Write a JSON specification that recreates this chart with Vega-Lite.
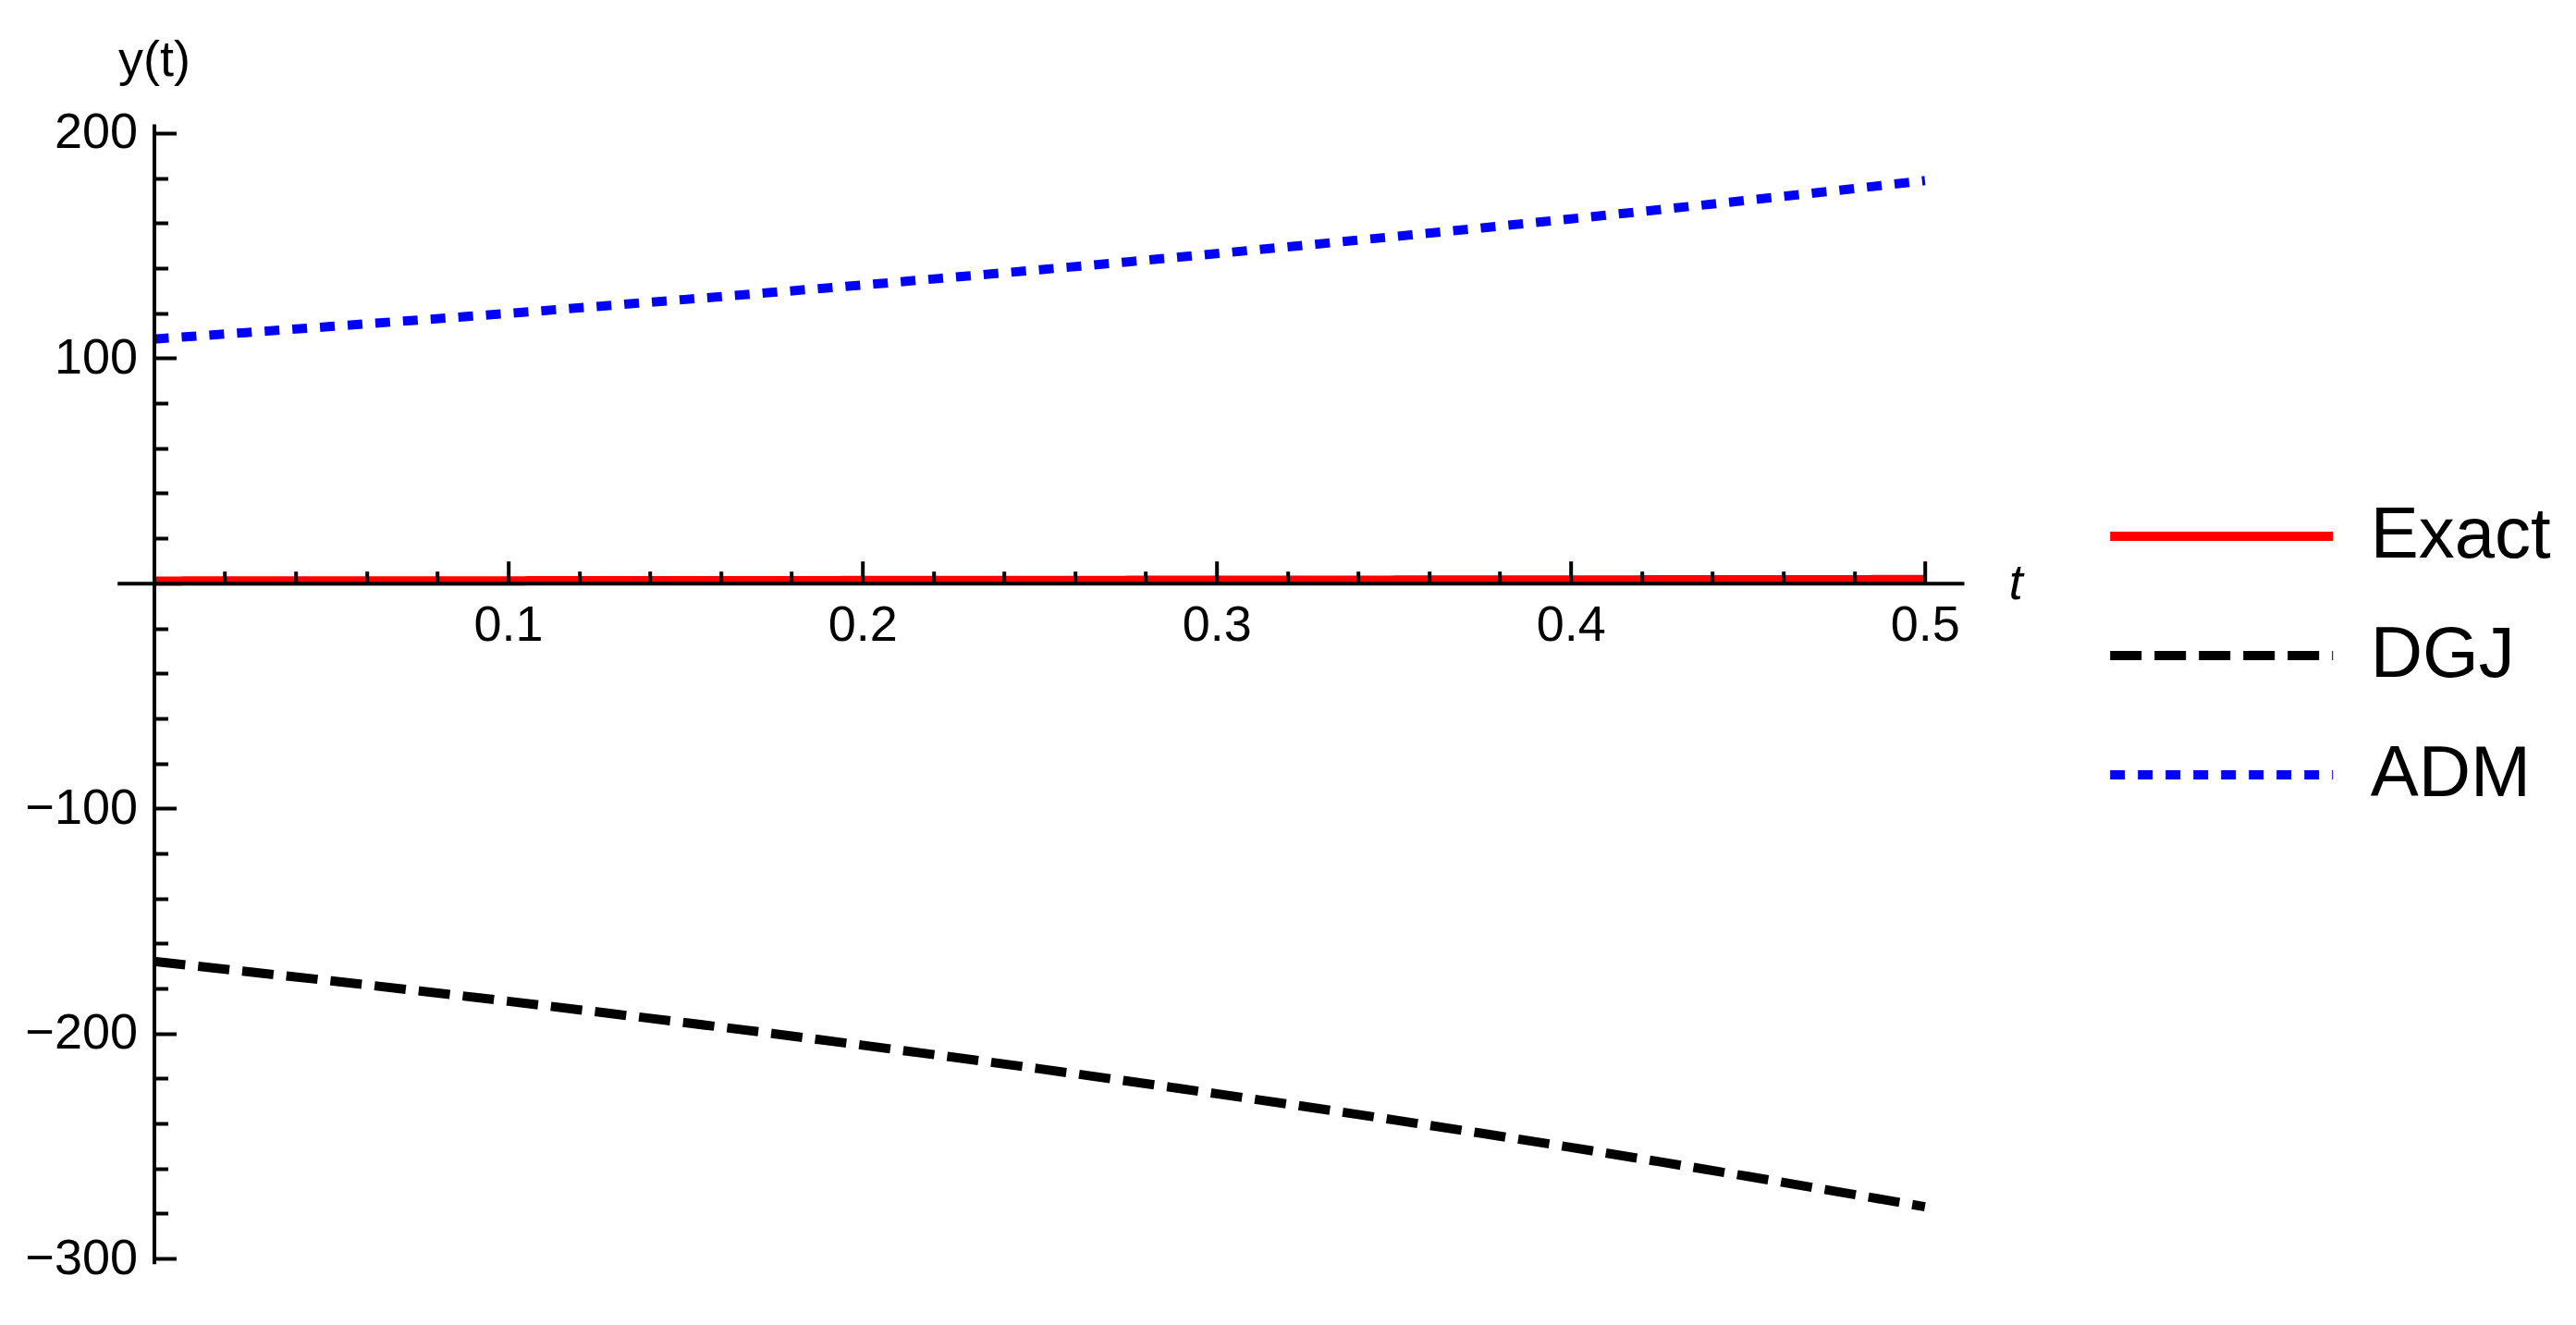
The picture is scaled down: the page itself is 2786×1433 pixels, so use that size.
{
  "$schema": "https://vega.github.io/schema/vega-lite/v6.json",
  "autosize": {"type": "none"},
  "width": 1997.3,
  "height": 1232.7,
  "padding": {"left": 126.7, "top": 134, "right": 662, "bottom": 66.3},
  "background": "white",
  "config": {
    "view": {"stroke": null},
    "font": "Liberation Sans",
    "legend": {
      "orient": "none",
      "legendX": 2237,
      "legendY": 407,
      "padding": 0,
      "symbolType": "M-4,0H4",
      "symbolSize": 3630,
      "symbolStrokeWidth": 10,
      "labelFont": "Liberation Sans",
      "labelFontSize": 78,
      "labelColor": "black",
      "labelOffset": 122,
      "labelLimit": 800,
      "rowPadding": 51
    }
  },
  "data": {
    "values": [
      {"t": 0, "y": 1.0, "series": "Exact"},
      {"t": 0.025, "y": 1.025, "series": "Exact"},
      {"t": 0.05, "y": 1.051, "series": "Exact"},
      {"t": 0.075, "y": 1.078, "series": "Exact"},
      {"t": 0.1, "y": 1.105, "series": "Exact"},
      {"t": 0.125, "y": 1.133, "series": "Exact"},
      {"t": 0.15, "y": 1.162, "series": "Exact"},
      {"t": 0.175, "y": 1.191, "series": "Exact"},
      {"t": 0.2, "y": 1.221, "series": "Exact"},
      {"t": 0.225, "y": 1.252, "series": "Exact"},
      {"t": 0.25, "y": 1.284, "series": "Exact"},
      {"t": 0.275, "y": 1.317, "series": "Exact"},
      {"t": 0.3, "y": 1.35, "series": "Exact"},
      {"t": 0.325, "y": 1.384, "series": "Exact"},
      {"t": 0.35, "y": 1.419, "series": "Exact"},
      {"t": 0.375, "y": 1.455, "series": "Exact"},
      {"t": 0.4, "y": 1.492, "series": "Exact"},
      {"t": 0.425, "y": 1.53, "series": "Exact"},
      {"t": 0.45, "y": 1.568, "series": "Exact"},
      {"t": 0.475, "y": 1.608, "series": "Exact"},
      {"t": 0.5, "y": 1.649, "series": "Exact"},
      {"t": 0, "y": -168.0, "series": "DGJ"},
      {"t": 0.025, "y": -172.3, "series": "DGJ"},
      {"t": 0.05, "y": -176.6, "series": "DGJ"},
      {"t": 0.075, "y": -181.1, "series": "DGJ"},
      {"t": 0.1, "y": -185.7, "series": "DGJ"},
      {"t": 0.125, "y": -190.4, "series": "DGJ"},
      {"t": 0.15, "y": -195.2, "series": "DGJ"},
      {"t": 0.175, "y": -200.1, "series": "DGJ"},
      {"t": 0.2, "y": -205.2, "series": "DGJ"},
      {"t": 0.225, "y": -210.4, "series": "DGJ"},
      {"t": 0.25, "y": -215.7, "series": "DGJ"},
      {"t": 0.275, "y": -221.2, "series": "DGJ"},
      {"t": 0.3, "y": -226.8, "series": "DGJ"},
      {"t": 0.325, "y": -232.5, "series": "DGJ"},
      {"t": 0.35, "y": -238.4, "series": "DGJ"},
      {"t": 0.375, "y": -244.4, "series": "DGJ"},
      {"t": 0.4, "y": -250.6, "series": "DGJ"},
      {"t": 0.425, "y": -257.0, "series": "DGJ"},
      {"t": 0.45, "y": -263.5, "series": "DGJ"},
      {"t": 0.475, "y": -270.2, "series": "DGJ"},
      {"t": 0.5, "y": -277.0, "series": "DGJ"},
      {"t": 0, "y": 108.5, "series": "ADM"},
      {"t": 0.025, "y": 111.3, "series": "ADM"},
      {"t": 0.05, "y": 114.1, "series": "ADM"},
      {"t": 0.075, "y": 117.0, "series": "ADM"},
      {"t": 0.1, "y": 119.9, "series": "ADM"},
      {"t": 0.125, "y": 123.0, "series": "ADM"},
      {"t": 0.15, "y": 126.1, "series": "ADM"},
      {"t": 0.175, "y": 129.3, "series": "ADM"},
      {"t": 0.2, "y": 132.5, "series": "ADM"},
      {"t": 0.225, "y": 135.9, "series": "ADM"},
      {"t": 0.25, "y": 139.3, "series": "ADM"},
      {"t": 0.275, "y": 142.8, "series": "ADM"},
      {"t": 0.3, "y": 146.5, "series": "ADM"},
      {"t": 0.325, "y": 150.2, "series": "ADM"},
      {"t": 0.35, "y": 154.0, "series": "ADM"},
      {"t": 0.375, "y": 157.9, "series": "ADM"},
      {"t": 0.4, "y": 161.9, "series": "ADM"},
      {"t": 0.425, "y": 166.0, "series": "ADM"},
      {"t": 0.45, "y": 170.2, "series": "ADM"},
      {"t": 0.475, "y": 174.5, "series": "ADM"},
      {"t": 0.5, "y": 178.9, "series": "ADM"}
    ]
  },
  "resolve": {"axis": {"x": "independent", "y": "independent"}},
  "layer": [
    {
      "transform": [{"filter": "datum.series === 'Exact'"}],
      "mark": {"type": "line", "strokeWidth": 10, "strokeCap": "butt"},
      "encoding": {
        "x": {
          "field": "t", "type": "quantitative",
          "scale": {"domain": [-0.0104, 0.511], "nice": false, "zero": false},
          "axis": {
            "orient": "bottom", "offset": -736, "values": [0.1, 0.2, 0.3, 0.4, 0.5], "format": ".1f",
            "grid": false, "tickSize": -24, "tickWidth": 4, "tickColor": "black",
            "domainWidth": 4, "domainColor": "black",
            "labelFont": "Liberation Sans", "labelFontSize": 54, "labelColor": "black",
            "labelPadding": 43, "labelFlush": false, "labelOverlap": false, "labelBound": false,
            "title": "t", "titleFont": "Liberation Sans", "titleFontSize": 54, "titleFontStyle": "italic",
            "titleFontWeight": "normal", "titleColor": "black", "titleX": 2053, "titleY": 17,
            "titleAlign": "center", "titleBaseline": "alphabetic", "titleAngle": 0, "zindex": 1
          }
        },
        "y": {
          "field": "y", "type": "quantitative",
          "scale": {"domain": [-302.3, 204.1], "nice": false, "zero": false},
          "axis": {
            "orient": "left", "offset": -39.8, "values": [-300, -200, -100, 100, 200], "format": "d",
            "grid": false, "tickSize": -24, "tickWidth": 4, "tickColor": "black",
            "domainWidth": 4, "domainColor": "black",
            "labelFont": "Liberation Sans", "labelFontSize": 54, "labelColor": "black",
            "labelPadding": 42, "labelFlush": false, "labelOverlap": false, "labelBound": false,
            "title": "y(t)", "titleFont": "Liberation Sans", "titleFontSize": 54,
            "titleFontWeight": "normal", "titleColor": "black", "titleX": 0, "titleY": -53,
            "titleAlign": "center", "titleBaseline": "alphabetic", "titleAngle": 0, "zindex": 1
          }
        },
        "color": {
          "field": "series", "type": "nominal",
          "scale": {"domain": ["Exact", "DGJ", "ADM"], "range": ["#ff0000", "#000000", "#0000ff"]},
          "legend": {"title": null}
        },
        "strokeDash": {
          "field": "series", "type": "nominal",
          "scale": {"domain": ["Exact", "DGJ", "ADM"], "range": [[1, 0], [34, 14], [16, 14]]},
          "legend": {"title": null}
        }
      }
    },
    {
      "transform": [{"filter": "datum.series !== 'Exact'"}],
      "mark": {"type": "line", "strokeWidth": 10, "strokeCap": "butt"},
      "encoding": {
        "x": {
          "field": "t", "type": "quantitative",
          "scale": {"domain": [-0.0104, 0.511], "nice": false, "zero": false},
          "axis": {
            "orient": "bottom", "offset": -736,
            "values": [0.02, 0.04, 0.06, 0.08, 0.12, 0.14, 0.16, 0.18, 0.22, 0.24, 0.26, 0.28, 0.32, 0.34, 0.36, 0.38, 0.42, 0.44, 0.46, 0.48],
            "grid": false, "domain": false, "labels": false, "tickSize": -13, "tickWidth": 4, "tickColor": "black",
            "title": null, "zindex": 1
          }
        },
        "y": {
          "field": "y", "type": "quantitative",
          "scale": {"domain": [-302.3, 204.1], "nice": false, "zero": false},
          "axis": {
            "orient": "left", "offset": -39.8,
            "values": [-280, -260, -240, -220, -180, -160, -140, -120, -80, -60, -40, -20, 20, 40, 60, 80, 120, 140, 160, 180],
            "grid": false, "domain": false, "labels": false, "tickSize": -15, "tickWidth": 4, "tickColor": "black",
            "title": null, "zindex": 1
          }
        },
        "color": {
          "field": "series", "type": "nominal",
          "scale": {"domain": ["Exact", "DGJ", "ADM"], "range": ["#ff0000", "#000000", "#0000ff"]},
          "legend": {"title": null}
        },
        "strokeDash": {
          "field": "series", "type": "nominal",
          "scale": {"domain": ["Exact", "DGJ", "ADM"], "range": [[1, 0], [34, 14], [16, 14]]},
          "legend": {"title": null}
        }
      }
    }
  ]
}
